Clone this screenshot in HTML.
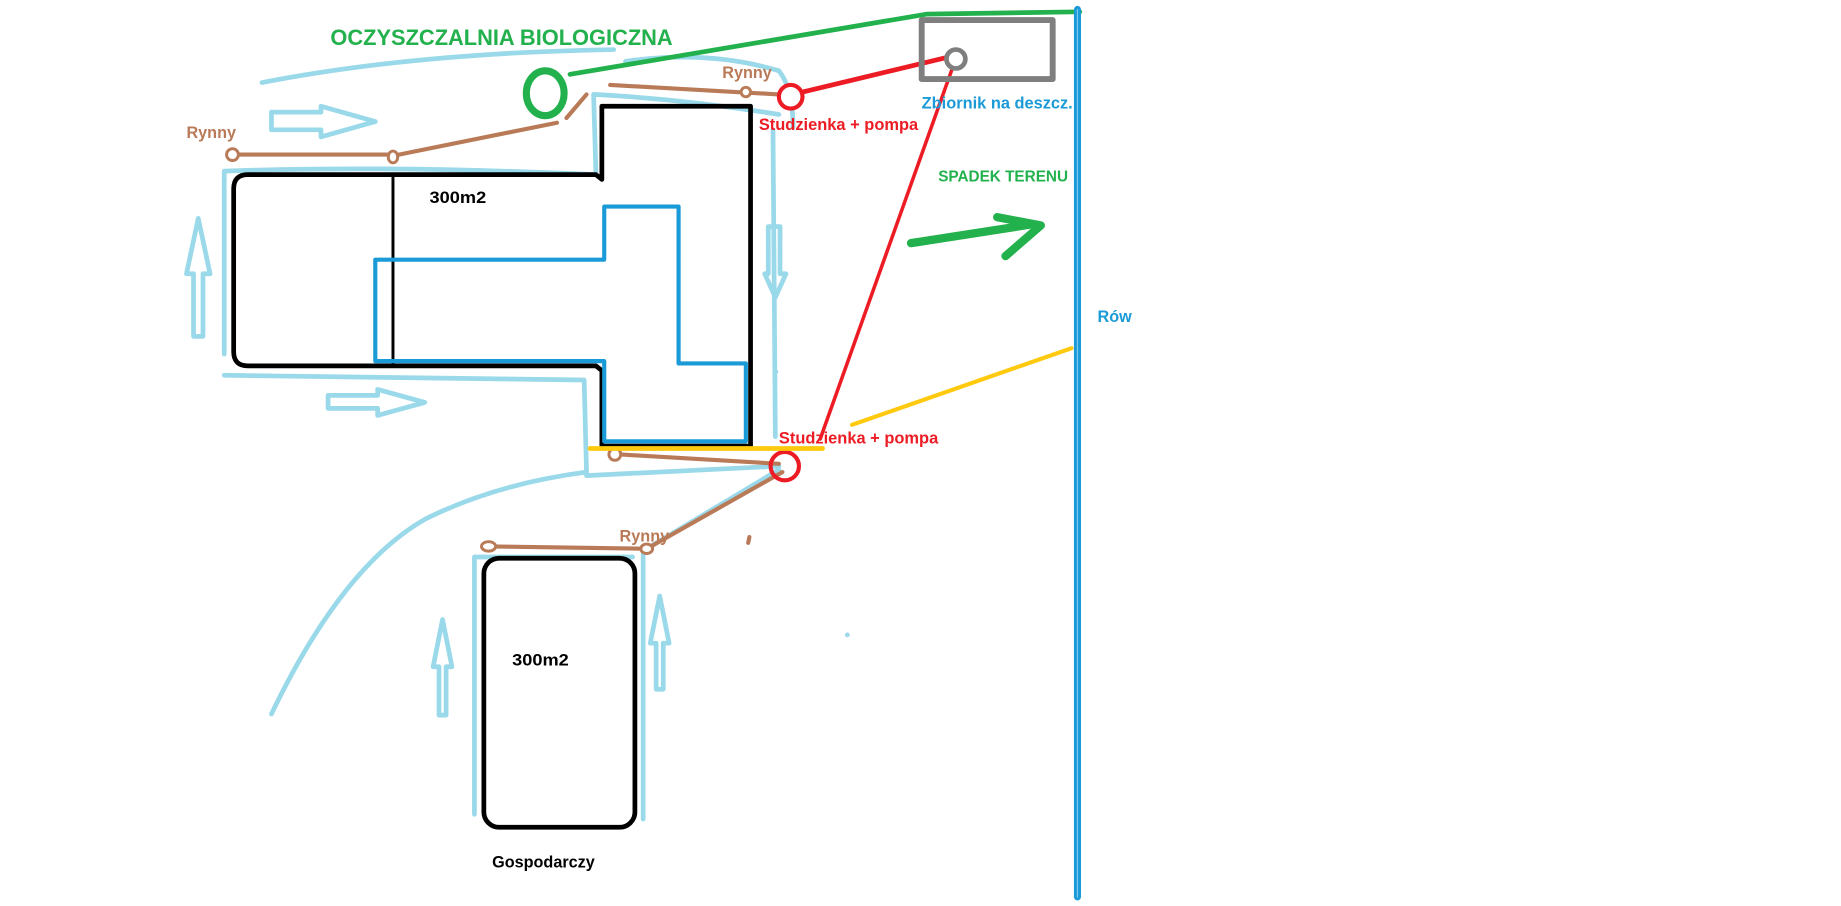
<!DOCTYPE html>
<html><head><meta charset="utf-8"><style>
html,body{margin:0;padding:0;background:#fff;width:1841px;height:906px;overflow:hidden}
svg{display:block}
text{font-family:"Liberation Sans",sans-serif;font-weight:bold}
</style></head><body>
<svg width="1841" height="906" viewBox="0 0 1560 767.7" preserveAspectRatio="none" xmlns="http://www.w3.org/2000/svg">
<g fill="none" stroke-linecap="round" stroke-linejoin="round">
<!-- light blue flow lines -->
<g stroke="#99d9ea" stroke-width="4">
<path d="M222 70 Q350 45 520 42"/>
<path d="M530 52 Q600 42 660 60 Q672 75 672 108"/>
<path d="M505 148 L503 80 Q580 84 660 97"/>
<path d="M190 300 L190 145 Q330 140 505 148"/>
<path d="M190 318 L495 322 L497 400"/>
<path d="M497 400 Q420 410 360 440 Q290 480 230 605"/>
<path d="M497 403 L660 395"/>
<path d="M655 110 L657 370"/>
<path d="M660 398 L548 465"/>
<path d="M402 690 L402 472 L536 472"/>
<path d="M545 470 L545 694"/>
<!-- arrows -->
<path d="M230 95 L272 95 L272 90 L318 103 L272 116 L272 110 L230 110 Z"/>
<path d="M278 335 L320 335 L320 330 L360 341 L320 352 L320 346 L278 346 Z"/>
<path d="M164 285 L164 232 L158 232 L168 185 L178 232 L172 232 L172 285 Z"/>
<path d="M651 192 L661 192 L661 232 L666 232 L657 252 L648 232 L651 232 Z"/>
<path d="M372 606 L372 565 L367 565 L375 525 L383 565 L378 565 L378 606 Z"/>
<path d="M556 584 L556 545 L551 545 L559 505 L567 545 L562 545 L562 584 Z"/>
</g>
<circle cx="658" cy="315" r="1.5" fill="#99d9ea" stroke="none"/>
<circle cx="718" cy="538" r="2" fill="#99d9ea" stroke="none"/>
<!-- green -->
<path d="M483 63 L785 12 L915 10" stroke="#22b14c" stroke-width="4"/>
<ellipse cx="462" cy="79" rx="16" ry="19" stroke="#22b14c" stroke-width="6"/>
<path d="M772 206 L875 190" stroke="#22b14c" stroke-width="7"/>
<path d="M845 184 L882 191 L852 217" stroke="#22b14c" stroke-width="7"/>
<!-- buildings -->
<path d="M333 148 L505 148 L510 152 L510 90 L636 90 L636 378 L510 378 L510 314 L505 310 L210 310 Q198 310 198 298 L198 160 Q198 148 210 148 Z" stroke="#000" stroke-width="4"/>
<path d="M333 148 L333 310" stroke="#000" stroke-width="2.5"/>
<path d="M318 220 L512 220 L512 175 L575 175 L575 308 L632 308 L632 374 L512 374 L512 306 L318 306 Z" stroke="#1a9ad6" stroke-width="3.5"/>
<rect x="410" y="473" width="128" height="228" rx="13" stroke="#000" stroke-width="4"/>
<!-- brown gutters -->
<g stroke="#b97a57" stroke-width="3.5">
<path d="M197 131 L333 131"/>
<path d="M338 131 L472 104"/>
<path d="M480 100 L497 80"/>
<path d="M517 72 L660 80"/>
<path d="M524 385 L660 393"/>
<path d="M414 463 L548 465"/>
<path d="M548 465 L663 400"/>
<path d="M635 455 L634 460"/>
</g>
<g stroke="#b97a57" stroke-width="2.5" fill="#fff">
<ellipse cx="197" cy="131" rx="5" ry="5"/>
<ellipse cx="333" cy="133" rx="4" ry="5"/>
<ellipse cx="632" cy="78" rx="4" ry="4"/>
<ellipse cx="521" cy="385" rx="5" ry="5"/>
<ellipse cx="414" cy="463" rx="6" ry="4"/>
<ellipse cx="548" cy="465" rx="5" ry="4"/>
</g>
<!-- red -->
<path d="M680 78 L805 48" stroke="#ed1c24" stroke-width="4"/>
<path d="M808 55 L695 372" stroke="#ed1c24" stroke-width="3"/>
<circle cx="670" cy="82" r="10" stroke="#ed1c24" stroke-width="3.5" fill="#fff"/>
<circle cx="665" cy="395" r="12" stroke="#ed1c24" stroke-width="3.5"/>
<!-- gray tank -->
<rect x="781" y="17" width="111" height="50" stroke="#7f7f7f" stroke-width="5"/>
<circle cx="810" cy="50" r="8" stroke="#7f7f7f" stroke-width="4" fill="#fff"/>
<!-- yellow -->
<path d="M500 380 L697 380" stroke="#ffc90e" stroke-width="4"/>
<path d="M722 360 L908 295" stroke="#ffc90e" stroke-width="3.5"/>
<!-- ditch -->
<path d="M913 8 L913 760" stroke="#1a9ad6" stroke-width="6"/>
<path d="M913 8 L913 760" stroke="#7cc8ee" stroke-width="1"/>
</g>
<text x="280" y="38" font-size="19" fill="#22b14c" textLength="290" lengthAdjust="spacingAndGlyphs">OCZYSZCZALNIA BIOLOGICZNA</text>
<text x="158" y="117" font-size="14" fill="#b97a57" textLength="42" lengthAdjust="spacingAndGlyphs">Rynny</text>
<text x="612" y="66" font-size="14" fill="#b97a57" textLength="42" lengthAdjust="spacingAndGlyphs">Rynny</text>
<text x="525" y="459" font-size="14" fill="#b97a57" textLength="42" lengthAdjust="spacingAndGlyphs">Rynny</text>
<text x="643" y="110" font-size="14" fill="#ed1c24" textLength="135" lengthAdjust="spacingAndGlyphs">Studzienka + pompa</text>
<text x="660" y="376" font-size="14" fill="#ed1c24" textLength="135" lengthAdjust="spacingAndGlyphs">Studzienka + pompa</text>
<text x="781" y="92" font-size="14" fill="#1a9ad6" textLength="128" lengthAdjust="spacingAndGlyphs">Zbiornik na deszcz.</text>
<text x="795" y="154" font-size="13" fill="#22b14c" textLength="110" lengthAdjust="spacingAndGlyphs">SPADEK TERENU</text>
<text x="930" y="273" font-size="14" fill="#1a9ad6" textLength="29" lengthAdjust="spacingAndGlyphs">Rów</text>
<text x="364" y="172" font-size="14" fill="#000" textLength="48" lengthAdjust="spacingAndGlyphs">300m2</text>
<text x="434" y="564" font-size="14" fill="#000" textLength="48" lengthAdjust="spacingAndGlyphs">300m2</text>
<text x="417" y="735" font-size="14" fill="#000" textLength="87" lengthAdjust="spacingAndGlyphs">Gospodarczy</text>
</svg>
</body></html>
